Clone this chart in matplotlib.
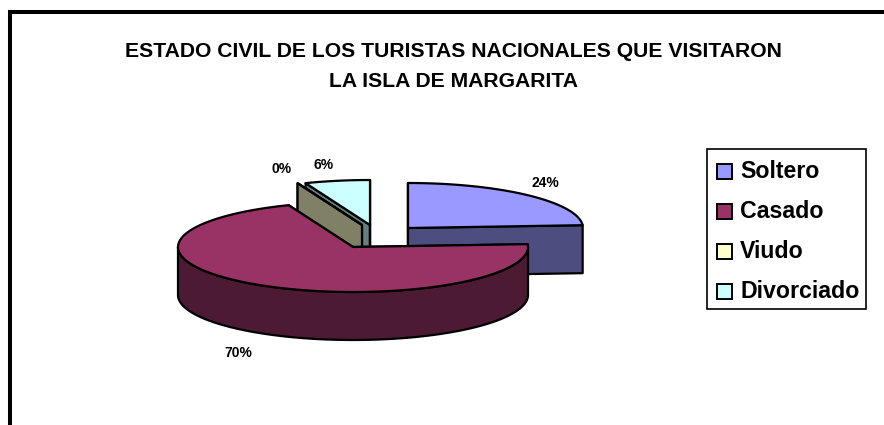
import numpy as np
import matplotlib
matplotlib.use('Agg')
import matplotlib.pyplot as plt
from matplotlib.patches import Polygon, Rectangle

plt.rcParams['font.family'] = ['Liberation Sans', 'DejaVu Sans']

categories = ['Soltero', 'Casado', 'Viudo', 'Divorciado']
values = [24, 70, 0, 6]
pct_labels = ['24%', '70%', '0%', '6%']
title_lines = ['ESTADO CIVIL DE LOS TURISTAS NACIONALES QUE VISITARON',
               'LA ISLA DE MARGARITA']

top_colors = ['#9999FF', '#993366', '#FFFFCC', '#CCFFFF']
side_colors = ['#4D4D80', '#4D1A33', '#808066', '#668080']

# wedge centres after explosion, pixels
centers = [(408, 228), (353, 247), (362, 225), (370, 225)]
label_pos = [(545.5, 183), (238, 353), (281.5, 169), (323.5, 165)]
draw_order = [3, 2, 0, 1]

RX, RY, DEPTH = 175, 45, 48
LW = 1.6


def ellipse_pts(cx, cy, a0, a1):
    n = max(2, int(abs(a1 - a0) / 2) + 2)
    a = np.radians(np.linspace(a0, a1, n))
    return np.column_stack([cx + RX * np.cos(a), cy - RY * np.sin(a)])


def draw_wedge(ax, center, start, end, top, side):
    # angles run clockwise from start to end
    cx, cy = center
    drop = np.array([0, DEPTH])
    for ang in (start, end):
        edge = ellipse_pts(cx, cy, ang, ang)[0]
        pts = [(cx, cy), edge, edge + drop, (cx, cy + DEPTH)]
        ax.add_patch(Polygon(pts, fc=side, ec='black', lw=LW, joinstyle='round'))
    # outer rim only where it faces the viewer
    for shift in (0, 360):
        a0, a1 = max(end, 180 - shift), min(start, 360 - shift)
        if a1 > a0:
            rim = ellipse_pts(cx, cy, a1, a0)
            ax.add_patch(Polygon(np.vstack([rim, (rim + drop)[::-1]]),
                                 fc=side, ec='black', lw=LW, joinstyle='round'))
    arc = ellipse_pts(cx, cy, start, end)
    ax.add_patch(Polygon(np.vstack([[(cx, cy)], arc]), fc=top, ec='black',
                         lw=LW, joinstyle='round'))


fig = plt.figure(figsize=(8.84, 4.25), dpi=100)
ax = fig.add_axes([0, 0, 1, 1])
ax.set_xlim(0, 884)
ax.set_ylim(425, 0)
ax.axis('off')

# chart frame, runs off the right and bottom of the image
ax.add_patch(Rectangle((10.3, 12), 900, 450, fc='white', ec='black', lw=2.9))

ends = 90 - np.cumsum(values) / np.sum(values) * 360
starts = np.concatenate([[90], ends[:-1]])
for i in draw_order:
    draw_wedge(ax, centers[i], starts[i], ends[i], top_colors[i], side_colors[i])

for (x, y), txt in zip(label_pos, pct_labels):
    ax.text(x, y, txt, fontsize=10, fontweight='bold', ha='center', va='center')

ax.text(453.5, 51, title_lines[0], fontsize=15.2, fontweight='bold', ha='center', va='center')
ax.text(453.5, 81, title_lines[1], fontsize=15.2, fontweight='bold', ha='center', va='center')

# legend
ax.add_patch(Rectangle((707, 149), 159, 160, fc='white', ec='black', lw=1.2))
for i, name in enumerate(categories):
    y = 171 + 40 * i
    ax.add_patch(Rectangle((717, y - 7.5), 15, 15, fc=top_colors[i], ec='black', lw=1.4))
    ax.text(740, y + 0.5, name, fontsize=16.7, fontweight='bold', ha='left', va='center')

fig.savefig('out.png', dpi=100)
